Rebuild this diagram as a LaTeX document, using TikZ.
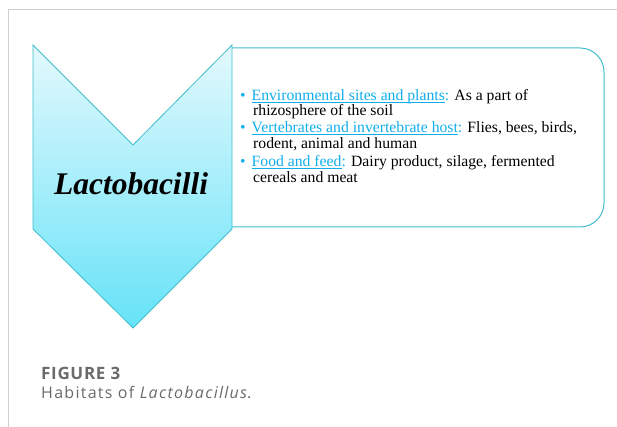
\documentclass[tikz,border=0pt]{standalone}
\usepackage{fontspec}
\setmainfont{Liberation Serif}
\newfontfamily\captionfont[LetterSpace=8]{Open Sans}
\newfontfamily\captionboldfont[LetterSpace=4]{Open Sans}
\usepackage{xcolor}
\usetikzlibrary{positioning}

\definecolor{edgeteal}{HTML}{3FBDCC}
\definecolor{chevtop}{HTML}{E3F9FD}
\definecolor{chevbot}{HTML}{66E3F8}
\definecolor{linkblue}{HTML}{10AEEA}
\definecolor{capgrey}{HTML}{6B6B6B}
\definecolor{framegrey}{HTML}{CFCFCF}

\newcommand{\habitat}[1]{\textcolor{linkblue}{\textbullet}\hspace{6pt}\textcolor{linkblue}{\underline{\smash{#1}}:}}

\begin{document}
\begin{tikzpicture}[x=1pt, y=-1pt,
  itembox/.style={anchor=base west, inner sep=0pt, align=left, font=\fontsize{15.7}{15.5}\selectfont},
  every node/.style={inner sep=0pt}]
\useasboundingbox (0,0) rectangle (617,427);
% frame of the figure
\draw[framegrey, line width=1pt] (8,427) -- (8,10) -- (617,10);
% rounded box with the habitats
\draw[edgeteal, line width=1pt, rounded corners=24pt] (232,48) -- (604,48) -- (604,227) -- (232,227);
% chevron
\draw[edgeteal, line width=0.8pt, top color=chevtop, bottom color=chevbot]
  (33,45) -- (133,145) -- (232,45) -- (232,229) -- (133,328) -- (33,229) -- cycle;
\node[font=\fontsize{31.5}{32}\selectfont\bfseries\itshape, anchor=base] (lacto) at (131,195) {Lactobacilli};
% habitat items (base = last line)
\node[itembox] (env) at (240,116) {\habitat{Environmental sites and plants} As a part of\\
  \hspace*{13pt}rhizosphere of the soil};
\node[itembox] (vert) at (240,148.5) {\habitat{Vertebrates and invertebrate host} Flies, bees, birds,\\
  \hspace*{13pt}rodent, animal and human};
\node[itembox] (food) at (240,182.5) {\habitat{Food and feed} Dairy product, silage, fermented\\
  \hspace*{13pt}cereals and meat};
% caption
\node[anchor=base west, font=\captionboldfont\fontsize{17}{18}\selectfont\bfseries, text=capgrey] (figno) at (41,379) {FIGURE 3};
\node[anchor=base west, font=\captionfont\fontsize{16}{18}\selectfont, text=capgrey] (figcap) at (41,398) {Habitats of \textit{Lactobacillus}.};
\end{tikzpicture}
\end{document}
